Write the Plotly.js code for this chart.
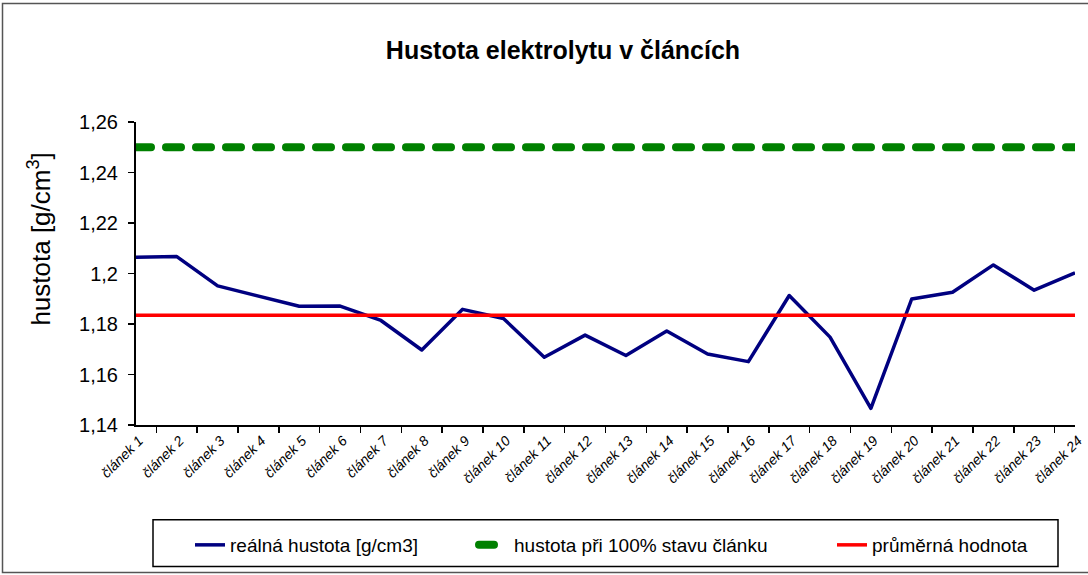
<!DOCTYPE html>
<html>
<head>
<meta charset="utf-8">
<script src="https://cdn.plot.ly/plotly-3.0.1.min.js"></script>
<style>html,body{margin:0;padding:0;background:#fff;}#chart{width:1088px;height:575px;}</style>
</head>
<body>
<div id="chart"></div>
<script>
const categories = ["článek 1","článek 2","článek 3","článek 4","článek 5","článek 6","článek 7","článek 8","článek 9","článek 10","článek 11","článek 12","článek 13","článek 14","článek 15","článek 16","článek 17","článek 18","článek 19","článek 20","článek 21","článek 22","článek 23","článek 24"];
const realDensity = [1.2064,1.2067,1.1951,1.1910,1.1870,1.1871,1.1814,1.1697,1.1858,1.1822,1.1668,1.1756,1.1675,1.1772,1.1681,1.1651,1.1913,1.1748,1.1466,1.1899,1.1926,1.2034,1.1934,1.2003];
const fullDensity = [1.25,1.25,1.25,1.25,1.25,1.25,1.25,1.25,1.25,1.25,1.25,1.25,1.25,1.25,1.25,1.25,1.25,1.25,1.25,1.25,1.25,1.25,1.25,1.25];
const averageDensity = [1.1835,1.1835,1.1835,1.1835,1.1835,1.1835,1.1835,1.1835,1.1835,1.1835,1.1835,1.1835,1.1835,1.1835,1.1835,1.1835,1.1835,1.1835,1.1835,1.1835,1.1835,1.1835,1.1835,1.1835];
const seriesNames = ["reálná hustota [g/cm3]","hustota při 100% stavu článku","průměrná hodnota"];
const yTickVals = [1.14,1.16,1.18,1.2,1.22,1.24,1.26];
const yTickText = ["1,14","1,16","1,18","1,2","1,22","1,24","1,26"];
const chartTitle = "Hustota elektrolytu v článcích";
const yTitle = "hustota [g/cm<sup>3</sup>]";

const FONT = "Liberation Sans, Arial, sans-serif";
// plot area in pixels
const L = 136, R = 1075, T = 122, B = 426, W = 1088, H = 575;
const px = x => (x - L) / (R - L);
const py = y => (B - y) / (B - T);

const traces = [
  {x: categories, y: realDensity, name: seriesNames[0], type: 'scatter', mode: 'lines',
   line: {color: '#000080', width: 3.5}, legend: 'legend'},
  {x: categories, y: fullDensity, name: seriesNames[1], type: 'scatter', mode: 'lines',
   line: {color: '#008000', width: 8, dash: '15px,15px'}, legend: 'legend2'},
  {x: categories, y: averageDensity, name: seriesNames[2], type: 'scatter', mode: 'lines',
   line: {color: '#ff0000', width: 3.5}, legend: 'legend3'}
];

const legendCommon = {orientation: 'h', xanchor: 'left', yanchor: 'middle', y: py(545),
  font: {family: FONT, size: 19, color: '#000'}, bgcolor: 'rgba(0,0,0,0)', borderwidth: 0};

const layout = {
  width: W, height: H,
  margin: {l: L, r: W - R, t: T, b: H - B},
  paper_bgcolor: '#fff', plot_bgcolor: '#fff',
  font: {family: FONT, color: '#000'},
  title: {text: '<b>' + chartTitle + '</b>', x: 563 / W, xanchor: 'center', y: 1 - 50 / H, yanchor: 'middle',
    font: {family: FONT, size: 25, color: '#000'}},
  xaxis: {type: 'category', showgrid: false, zeroline: false, showline: true, linecolor: '#000', linewidth: 2,
    ticks: 'outside', tickson: 'boundaries', ticklen: 6, tickcolor: '#000', tickwidth: 1.5,
    ticklabelshift: 3,
    tickangle: -45, tickfont: {family: FONT, size: 14, style: 'italic', color: '#000'}},
  yaxis: {range: [1.14, 1.26], showgrid: false, zeroline: false, showline: true, linecolor: '#000', linewidth: 2,
    ticks: 'outside', ticklen: 6, tickcolor: '#000', tickwidth: 1.5, ticklabelstandoff: 6,
    tickvals: yTickVals, ticktext: yTickText, tickfont: {family: FONT, size: 20, color: '#000'}},
  showlegend: true,
  legend: Object.assign({}, legendCommon, {x: px(190)}),
  legend2: Object.assign({}, legendCommon, {x: px(474)}),
  legend3: Object.assign({}, legendCommon, {x: px(832)}),
  annotations: [
    {text: yTitle, textangle: -90, xref: 'paper', yref: 'paper', x: px(40), y: py(240),
     xanchor: 'center', yanchor: 'middle', showarrow: false, font: {family: FONT, size: 26, color: '#000'}}
  ],
  shapes: [
    {type: 'rect', xref: 'paper', yref: 'paper', x0: px(153), x1: px(1058), y0: py(521), y1: py(568),
     line: {color: '#000', width: 1.5}, fillcolor: 'rgba(0,0,0,0)'},
    {type: 'rect', xref: 'paper', yref: 'paper', x0: px(2.5), x1: px(1095), y0: py(3), y1: py(574),
     line: {color: '#555', width: 1.5}, fillcolor: 'rgba(0,0,0,0)'}
  ]
};

Plotly.newPlot('chart', traces, layout, {displayModeBar: false, staticPlot: true}).then(gd => {
  // round the dash ends like the reference
  const traceGroups = gd.querySelectorAll('.scatterlayer .trace');
  if (traceGroups[1]) traceGroups[1].querySelectorAll('path.js-line').forEach(p => p.style.strokeLinecap = 'round');
  gd.querySelectorAll('.scatterlayer .trace path.js-line').forEach(p => p.style.strokeLinejoin = 'round');
  gd.querySelectorAll('.legend2 .legendlines path').forEach(p => p.style.strokeLinecap = 'round');
});
</script>
</body>
</html>
